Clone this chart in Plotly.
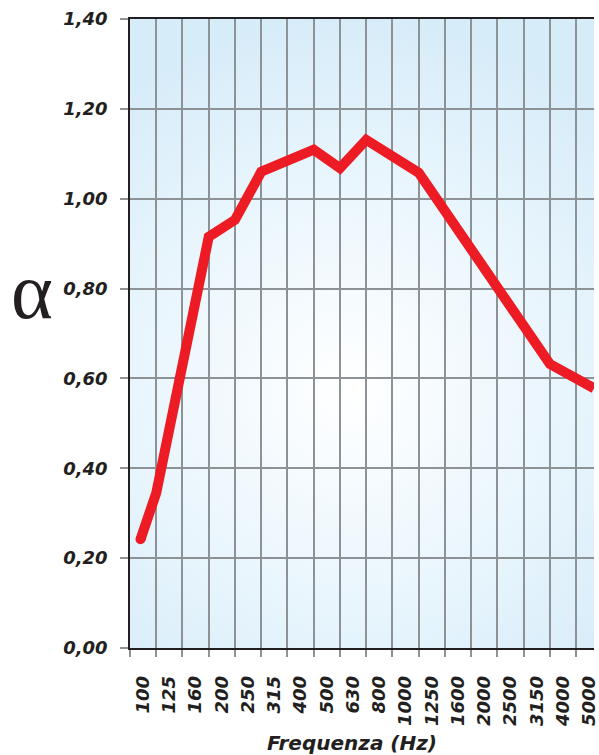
import plotly.graph_objects as go

# ---- data -------------------------------------------------------------
freq_labels = ["100", "125", "160", "200", "250", "315", "400", "500", "630",
               "800", "1000", "1250", "1600", "2000", "2500", "3150", "4000", "5000"]

# vertices of the absorption curve, position in band units
# (0 = left edge of the 100 Hz band, 1 = boundary 100|125, ...)
curve_pos = [0.4, 1, 3, 4, 5, 7, 8, 9, 11, 16, 17.68]
curve_alpha = [0.242, 0.345, 0.915, 0.953, 1.060, 1.109, 1.068, 1.131, 1.058, 0.632, 0.578]

y_ticks = [0.0, 0.2, 0.4, 0.6, 0.8, 1.0, 1.2, 1.4]

X_MAX = 17.68
Y_MAX = 1.40

# ---- style ------------------------------------------------------------
GRID = "#8c9296"
DARK = "#231f20"
RED = "#ed1c24"
FONT = "DejaVu Sans"

# background glow box (band units / alpha units), roughly circular on screen
BG_X = [-5.6, 22.3]
BG_Y = [-0.25, Y_MAX]

fig = go.Figure()

# background radial gradient, on a lower (hidden) subplot so grid lines sit above it
fig.add_trace(go.Scatter(
    x=[BG_X[0], BG_X[1], BG_X[1], BG_X[0], BG_X[0]],
    y=[BG_Y[0], BG_Y[0], BG_Y[1], BG_Y[1], BG_Y[0]],
    mode="lines", line=dict(width=0), fill="toself",
    fillgradient=dict(type="radial",
                      colorscale=[[0, "#ffffff"], [0.55, "#eaf6fd"], [1, "#d7ecf9"]]),
    hoverinfo="skip", showlegend=False, xaxis="x", yaxis="y",
))

fig.add_trace(go.Scatter(
    x=curve_pos, y=curve_alpha, mode="lines",
    line=dict(color=RED, width=10, shape="linear"),
    showlegend=False, xaxis="x2", yaxis="y2",
))
fig.add_trace(go.Scatter(
    x=curve_pos[:1], y=curve_alpha[:1], mode="markers",
    marker=dict(color=RED, size=10, line=dict(width=0)),
    showlegend=False, xaxis="x2", yaxis="y2",
))

tick_font = dict(family=FONT, size=18, color=DARK, weight="bold", style="italic")

fig.update_layout(
    width=599, height=755,
    margin=dict(l=130, r=0, t=19, b=107),
    paper_bgcolor="white", plot_bgcolor="rgba(0,0,0,0)",
    separators=",.",
    showlegend=False,
    xaxis=dict(range=[0, X_MAX], visible=False, domain=[0, 1], anchor="y"),
    yaxis=dict(range=[0, Y_MAX], visible=False, domain=[0, 1], anchor="x"),
    xaxis2=dict(
        type="linear", range=[0, X_MAX], domain=[0, 1], anchor="y2",
        tickmode="array",
        tickvals=[i + 0.5 for i in range(len(freq_labels))],
        ticktext=freq_labels,
        tickangle=-90, ticks="", showgrid=False, zeroline=False,
        tickfont=tick_font, ticklabelstandoff=19, ticklabeloverflow="allow",
        showline=True, linecolor=DARK, linewidth=1.5, mirror=True,
        minor=dict(tickmode="linear", tick0=0, dtick=1, ticks="outside",
                   ticklen=7, tickcolor=GRID, tickwidth=2,
                   showgrid=True, gridcolor=GRID, gridwidth=2),
    ),
    yaxis2=dict(
        range=[0, Y_MAX], domain=[0, 1], anchor="x2",
        tickmode="array", tickvals=y_ticks,
        tickformat=".2f", ticks="outside", ticklen=8, tickcolor=GRID, tickwidth=2,
        showgrid=True, gridcolor=GRID, gridwidth=2, zeroline=False,
        showline=True, linecolor=DARK, linewidth=1.5,
        tickfont=tick_font, ticklabelstandoff=9,
    ),
    annotations=[
        dict(text="α", xref="paper", yref="paper", x=-0.211, y=0.568,
             xanchor="center", yanchor="middle", showarrow=False,
             font=dict(family="Liberation Serif", size=80, color=DARK)),
        dict(text="Frequenza (Hz)", xref="paper", yref="paper", x=0.478, y=-0.151,
             xanchor="center", yanchor="middle", showarrow=False,
             font=dict(family=FONT, size=20, color=DARK, weight="bold", style="italic")),
    ],
)

fig.write_html("out.html", config={"displayModeBar": False},
               post_script="document.body.style.margin='0';")
